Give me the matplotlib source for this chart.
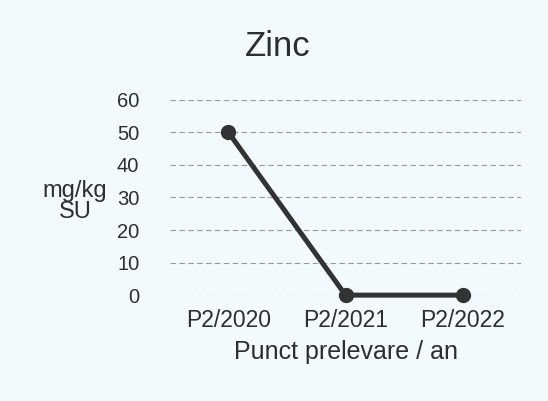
import matplotlib.pyplot as plt

plt.rcParams['font.family'] = ['Liberation Sans', 'DejaVu Sans']

puncte = ['P2/2020', 'P2/2021', 'P2/2022']
zinc = [50, 0, 0]
yticks = [0, 10, 20, 30, 40, 50, 60]

bg = '#f2fafc'
txt = '#2e2e2e'

fig = plt.figure(figsize=(5.48, 4.01), dpi=100, facecolor=bg)
ax = fig.add_axes([0.310, 0.264, 0.641, 0.487], facecolor=bg)

ax.plot(range(len(puncte)), zinc, color='#333333', lw=3.6, marker='o',
        markersize=10, solid_capstyle='round', zorder=3, clip_on=False)

ax.set_xlim(-0.5, len(puncte) - 0.5)
ax.set_ylim(0, 60)
ax.set_yticks(yticks)
ax.set_xticks(range(len(puncte)))
ax.set_xticklabels(puncte)
ax.tick_params(axis='y', length=0, pad=22, labelsize=14.5, labelcolor=txt)
ax.tick_params(axis='x', length=0, pad=10, labelsize=16.5, labelcolor=txt)
ax.grid(axis='y', color='#9a9a9a', lw=0.8, linestyle=(0, (5, 3)))
ax.set_axisbelow(True)
for s in ax.spines.values():
    s.set_visible(False)

ax.set_xlabel('Punct prelevare / an', fontsize=18, color=txt, labelpad=6)
ax.set_ylabel('mg/kg\nSU', fontsize=17, color=txt, rotation=0,
              ha='center', va='center', linespacing=0.9)
ax.yaxis.set_label_coords(-0.27, 0.48)

fig.text(0.507, 0.885, 'Zinc', fontsize=25, color=txt, ha='center', va='center')

fig.savefig('out.png', dpi=100, facecolor=bg)
